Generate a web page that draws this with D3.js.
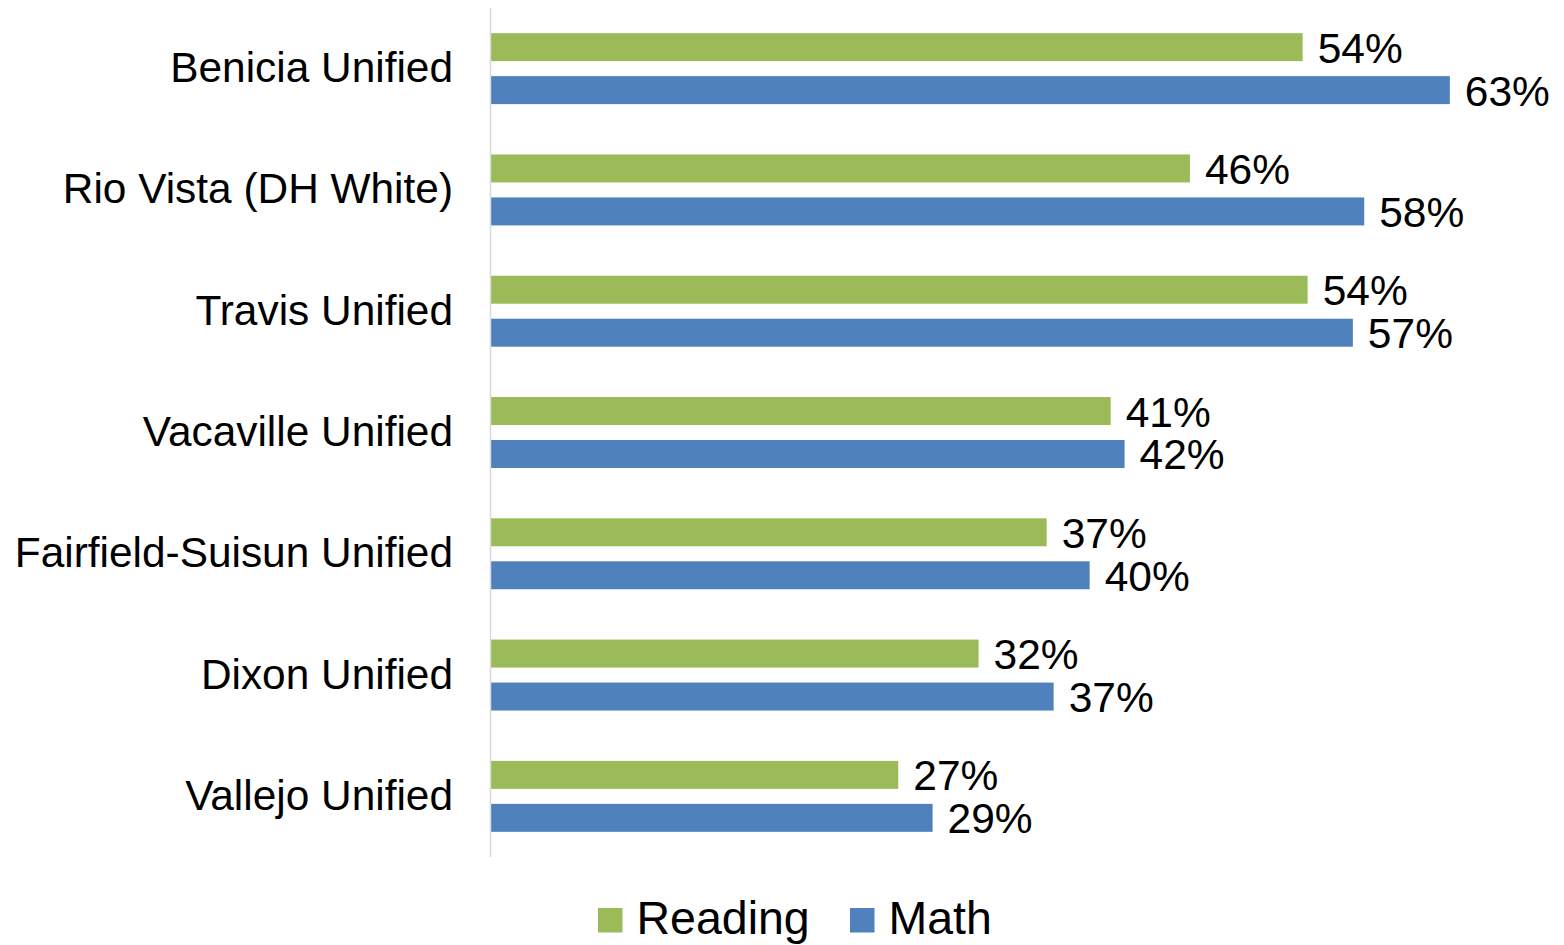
<!DOCTYPE html>
<html>
<head>
<meta charset="utf-8">
<script src="https://cdn.jsdelivr.net/npm/d3@7"></script>
<style>
  html, body { margin: 0; padding: 0; background: #fff; }
  svg { display: block; font-family: "Liberation Sans", Arial, sans-serif; }
</style>
</head>
<body>
<svg id="chart" width="1564" height="945"></svg>
<script>
const categories = ["Benicia Unified", "Rio Vista (DH White)", "Travis Unified", "Vacaville Unified", "Fairfield-Suisun Unified", "Dixon Unified", "Vallejo Unified"];
const seriesNames = ["Reading", "Math"];
const reading = [0.5365, 0.462, 0.5398, 0.4096, 0.3673, 0.3223, 0.2692];
const math = [0.6338, 0.5772, 0.5697, 0.4188, 0.3957, 0.3719, 0.2919];
const colors = ["#9BBB59", "#4F81BD"];

const svg = d3.select("#chart");
const x = d3.scaleLinear().domain([0, 0.7]).range([491, 1550]);
const y = d3.scaleBand().domain(categories).range([8, 857]).paddingInner(0.415).paddingOuter(0.2075);
const ySub = d3.scaleBand().domain(seriesNames).range([0, y.bandwidth()]).paddingInner(0.349).paddingOuter(0);
const color = d3.scaleOrdinal().domain(seriesNames).range(colors);
const fmt = d3.format(".0%");

const rows = categories.map((c, i) => ({ cat: c, vals: [{ s: "Reading", v: reading[i] }, { s: "Math", v: math[i] }] }));

const groups = svg.selectAll("g.grp").data(rows).join("g")
  .attr("class", "grp")
  .attr("transform", d => `translate(0,${y(d.cat)})`);

groups.selectAll("rect").data(d => d.vals).join("rect")
  .attr("x", x(0))
  .attr("y", d => ySub(d.s))
  .attr("width", d => x(d.v) - x(0))
  .attr("height", ySub.bandwidth())
  .attr("fill", d => color(d.s));

groups.selectAll("text.val").data(d => d.vals).join("text")
  .attr("class", "val")
  .attr("x", d => x(d.v) + 15)
  .attr("y", d => ySub(d.s) + ySub.bandwidth() / 2 + 15.5)
  .attr("font-size", 42.5)
  .attr("fill", "#000")
  .text(d => fmt(d.v));

// category axis
const yAxis = d3.axisLeft(y).tickSize(0).tickPadding(0);
const ax = svg.append("g").attr("transform", `translate(${x(0)},0)`).call(yAxis);
ax.select(".domain").remove();
ax.selectAll(".tick text")
  .attr("x", -38)
  .attr("dy", null)
  .attr("y", 13.5)
  .attr("font-size", 42.4)
  .attr("font-family", "Liberation Sans, Arial, sans-serif")
  .attr("fill", "#000");

svg.append("line")
  .attr("x1", 490.5).attr("x2", 490.5)
  .attr("y1", 8).attr("y2", 857)
  .attr("stroke", "#d9d9d9").attr("stroke-width", 1.5);

// legend
const legendX = [598, 850];
const lg = svg.selectAll("g.leg").data(seriesNames).join("g")
  .attr("class", "leg")
  .attr("transform", (d, i) => `translate(${legendX[i]},908)`);
lg.append("rect").attr("width", 24.5).attr("height", 24.5).attr("fill", d => color(d));
lg.append("text").attr("x", 38.5).attr("y", 25.5).attr("font-size", 46.5).attr("fill", "#000").text(d => d);
</script>
</body>
</html>
